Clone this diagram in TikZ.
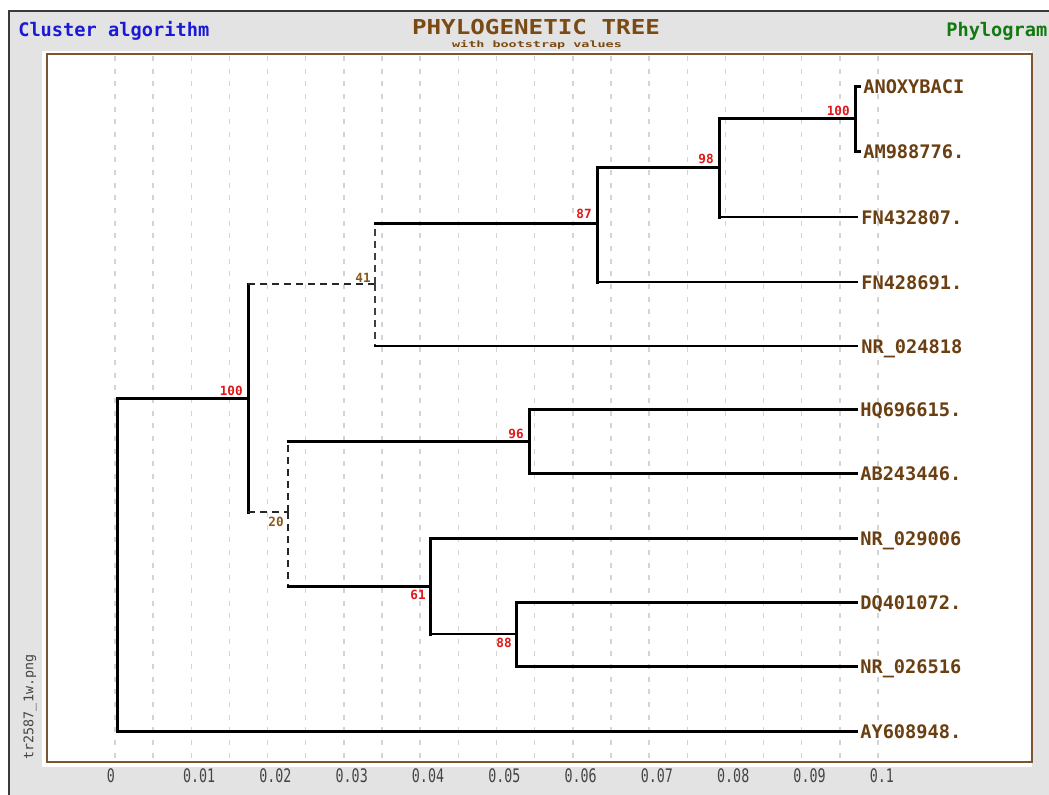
\documentclass[tikz,border=0pt]{standalone}
\usepackage{fontspec}
\usetikzlibrary{calc}
\newfontfamily\monof{DejaVu Sans Mono}
\definecolor{leafbrown}{HTML}{6B3F12}
\definecolor{titlebrown}{HTML}{7A4A14}
\definecolor{bsred}{HTML}{E01818}
\definecolor{bsbrown}{HTML}{8A5A1C}
\definecolor{clusterblue}{HTML}{1A1AD6}
\definecolor{phylogreen}{HTML}{107A10}
\definecolor{framegray}{HTML}{E3E3E3}
\definecolor{frameline}{HTML}{3A3A3A}
\definecolor{panelbrown}{HTML}{7A5530}
\definecolor{gridgray}{HTML}{D4D4D4}
\definecolor{axisgray}{HTML}{444444}
\begin{document}
\begin{tikzpicture}[x=0.75pt,y=-0.75pt,
  thickbr/.style={line width=2.25pt, line cap=rect, draw=black},
  thinbr/.style={line width=1.1pt, line cap=rect, draw=black},
  dashbr/.style={line width=1.5pt, draw=black!85, dash pattern=on 5.2pt off 3.8pt},
  thindash/.style={line width=1.1pt, draw=black!75, dash pattern=on 5.2pt off 3.8pt},
  gridln/.style={line width=1.1pt, draw=gridgray, dash pattern=on 3.75pt off 5.75pt},
  leaf/.style={font=\monof\bfseries\fontsize{14}{14}\selectfont, text=leafbrown, anchor=base west, inner sep=0pt},
  bs/.style={font=\monof\bfseries\fontsize{9.5}{9.5}\selectfont, text=bsred, inner sep=0pt},
  bsb/.style={bs, text=bsbrown},
  axislab/.style={font=\monof\fontsize{10}{10}\selectfont, text=axisgray, anchor=base west, inner sep=0pt},
]
\useasboundingbox (0,0) rectangle (1049,795);
\clip (0,0) rectangle (1049,795);
% outer frame
\fill[white] (0,0) rectangle (1049,795);
\draw[fill=framegray, draw=frameline, line width=1.1pt] (9,11) rectangle (1070,815);
% panel
\fill[white] (42,51) rectangle (1032,767);
\draw[fill=white, draw=panelbrown, line width=1.2pt] (47,54) rectangle (1032,762);
% grid
\foreach \k in {0,...,20} \draw[gridln] (115+38.15*\k,56) -- (115+38.15*\k,761);
% axis labels
\foreach \k/\t in {0/0,1/0.01,2/0.02,3/0.03,4/0.04,5/0.05,6/0.06,7/0.07,8/0.08,9/0.09,10/0.1}
  \node[axislab] (ax\k) at (106.5+76.3*\k,782) {\scalebox{1}[1.4]{\t}};
% headers
\node[font=\monof\bfseries\fontsize{14}{14}\selectfont, text=clusterblue, anchor=base west, inner sep=0pt] (cluster) at (18,37) {Cluster algorithm};
\node[font=\monof\bfseries\fontsize{14}{14}\selectfont, text=phylogreen, anchor=base west, inner sep=0pt] (phylo) at (946,37) {Phylogram};
\node[font=\monof\bfseries\fontsize{15.4}{15.4}\selectfont, text=titlebrown, anchor=base, inner sep=0pt] (title) at (536,35) {\scalebox{1.18}[1]{PHYLOGENETIC TREE}};
\node[font=\monof\bfseries\fontsize{6.5}{6.5}\selectfont, text=titlebrown, anchor=base, inner sep=0pt] (subtitle) at (537,47.5) {\scalebox{1.55}[1]{with bootstrap values}};
\node[font=\monof\fontsize{10}{10}\selectfont, text=axisgray, rotate=90, inner sep=0pt] (fname) at (30,707) {tr2587\_1w.png};
% tree coordinates
\coordinate (r) at (117,564);
\coordinate (n100a) at (248,398);
\coordinate (n41) at (375,284);
\coordinate (n87) at (597,223);
\coordinate (n98) at (719,168);
\coordinate (n100t) at (855,119);
\coordinate (n20) at (288,512);
\coordinate (n96) at (529,441);
\coordinate (n61) at (430,586);
\coordinate (n88) at (516,634);
\coordinate (lANOX) at (859,87);
\coordinate (lAM) at (859,152);
\coordinate (lFNa) at (857,217);
\coordinate (lFNb) at (857,282);
\coordinate (lNRa) at (857,346);
\coordinate (lHQ) at (856,409);
\coordinate (lAB) at (856,473);
\coordinate (lNRb) at (856,538);
\coordinate (lDQ) at (856,602);
\coordinate (lNRc) at (856,666);
\coordinate (lAY) at (856,731);
% connectors: vertical (parent style), horizontal (branch style)
\draw[thickbr] (r) -- (r |- n100a);   \draw[thickbr] (r |- n100a) -- (n100a);
\draw[thickbr] (r) -- (r |- lAY);     \draw[thickbr] (r |- lAY) -- (lAY);
\draw[thickbr] (n100a) -- (n100a |- n41); \draw[dashbr] (n100a |- n41) -- (n41);
\draw[thickbr] (n100a) -- (n100a |- n20); \draw[dashbr] (n100a |- n20) -- (n20);
\draw[thindash] (n41) -- (n41 |- n87);  \draw[thickbr] (n41 |- n87) -- (n87);
\draw[thindash] (n41) -- (n41 |- lNRa); \draw[thinbr] (n41 |- lNRa) -- (lNRa);
\draw[thickbr] (n87) -- (n87 |- n98);   \draw[thickbr] (n87 |- n98) -- (n98);
\draw[thickbr] (n87) -- (n87 |- lFNb);  \draw[thinbr] (n87 |- lFNb) -- (lFNb);
\draw[thickbr] (n98) -- (n98 |- n100t); \draw[thickbr] (n98 |- n100t) -- (n100t);
\draw[thickbr] (n98) -- (n98 |- lFNa);  \draw[thinbr] (n98 |- lFNa) -- (lFNa);
\draw[thickbr] (n100t) -- (n100t |- lANOX); \draw[thickbr] (n100t |- lANOX) -- (lANOX);
\draw[thickbr] (n100t) -- (n100t |- lAM);   \draw[thickbr] (n100t |- lAM) -- (lAM);
\draw[dashbr] (n20) -- (n20 |- n96);  \draw[thickbr] (n20 |- n96) -- (n96);
\draw[dashbr] (n20) -- (n20 |- n61);  \draw[thickbr] (n20 |- n61) -- (n61);
\draw[thickbr] (n96) -- (n96 |- lHQ); \draw[thickbr] (n96 |- lHQ) -- (lHQ);
\draw[thickbr] (n96) -- (n96 |- lAB); \draw[thickbr] (n96 |- lAB) -- (lAB);
\draw[thickbr] (n61) -- (n61 |- lNRb); \draw[thickbr] (n61 |- lNRb) -- (lNRb);
\draw[thickbr] (n61) -- (n61 |- n88);  \draw[thinbr] (n61 |- n88) -- (n88);
\draw[thickbr] (n88) -- (n88 |- lDQ);  \draw[thickbr] (n88 |- lDQ) -- (lDQ);
\draw[thickbr] (n88) -- (n88 |- lNRc); \draw[thickbr] (n88 |- lNRc) -- (lNRc);
% leaf labels
\node[leaf] (tANOX) at ($(lANOX)+(4,7)$) {ANOXYBACI};
\node[leaf] (tAM) at ($(lAM)+(4,7)$) {AM988776.};
\node[leaf] (tFNa) at ($(lFNa)+(4,7)$) {FN432807.};
\node[leaf] (tFNb) at ($(lFNb)+(4,7)$) {FN428691.};
\node[leaf] (tNRa) at ($(lNRa)+(4,7)$) {NR\_024818};
\node[leaf] (tHQ) at ($(lHQ)+(4,7)$) {HQ696615.};
\node[leaf] (tAB) at ($(lAB)+(4,7)$) {AB243446.};
\node[leaf] (tNRb) at ($(lNRb)+(4,7)$) {NR\_029006};
\node[leaf] (tDQ) at ($(lDQ)+(4,7)$) {DQ401072.};
\node[leaf] (tNRc) at ($(lNRc)+(4,7)$) {NR\_026516};
\node[leaf] (tAY) at ($(lAY)+(4,7)$) {AY608948.};
% bootstrap values
\node[bs, anchor=base east] (b100t) at ($(n100t)+(-5,-3)$) {100};
\node[bs, anchor=base east] (b98) at ($(n98)+(-5,-4)$) {98};
\node[bs, anchor=base east] (b87) at ($(n87)+(-5,-4)$) {87};
\node[bsb, anchor=base east] (b41) at ($(n41)+(-4,-2)$) {41};
\node[bs, anchor=base east] (b100a) at ($(n100a)+(-5,-3)$) {100};
\node[bs, anchor=base east] (b96) at ($(n96)+(-5,-3)$) {96};
\node[bsb, anchor=north east] (b20) at ($(n20)+(-4,5)$) {20};
\node[bs, anchor=north east] (b61) at ($(n61)+(-4,4)$) {61};
\node[bs, anchor=north east] (b88) at ($(n88)+(-4,4)$) {88};
\end{tikzpicture}
\end{document}
